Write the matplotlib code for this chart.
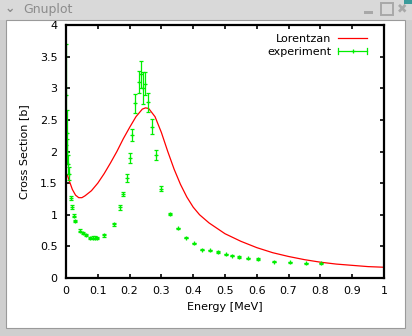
import matplotlib
matplotlib.use("Agg")
import matplotlib.pyplot as plt
from matplotlib.patches import Rectangle
from matplotlib.lines import Line2D
from matplotlib.legend_handler import HandlerBase
import numpy as np

# ---- data ----
lor_E = [0.005, 0.01, 0.02, 0.03, 0.04, 0.05, 0.06, 0.08, 0.10, 0.12, 0.14, 0.16,
         0.18, 0.20, 0.22, 0.24, 0.25, 0.26, 0.28, 0.30, 0.32, 0.34, 0.36, 0.38,
         0.40, 0.42, 0.45, 0.50, 0.55, 0.60, 0.65, 0.70, 0.75, 0.80, 0.85, 0.90,
         0.95, 1.0]
lor_S = [1.62, 1.54, 1.40, 1.31, 1.27, 1.27, 1.30, 1.38, 1.50, 1.65, 1.82, 2.00,
         2.20, 2.38, 2.55, 2.67, 2.69, 2.68, 2.55, 2.30, 2.00, 1.72, 1.48, 1.28,
         1.12, 1.00, 0.87, 0.70, 0.58, 0.48, 0.40, 0.34, 0.29, 0.25, 0.22, 0.20,
         0.18, 0.17]

exp_E = [0.001, 0.002, 0.004, 0.006, 0.008, 0.016, 0.019, 0.024, 0.029, 0.045,
         0.053, 0.064, 0.074, 0.084, 0.091, 0.097, 0.119, 0.151, 0.169, 0.180,
         0.193, 0.201, 0.208, 0.218, 0.228, 0.237, 0.242, 0.247, 0.257, 0.272,
         0.283, 0.300, 0.326, 0.352, 0.377, 0.402, 0.428, 0.453, 0.478, 0.503,
         0.522, 0.544, 0.573, 0.604, 0.654, 0.704, 0.754, 0.803]
exp_S = [2.90, 2.30, 2.00, 1.80, 1.65, 1.26, 1.12, 0.985, 0.90, 0.75,
         0.71, 0.68, 0.63, 0.64, 0.64, 0.63, 0.675, 0.85, 1.12, 1.33,
         1.58, 1.90, 2.26, 2.76, 3.10, 3.22, 3.00, 3.07, 2.78, 2.39,
         1.94, 1.41, 1.01, 0.785, 0.64, 0.55, 0.45, 0.44, 0.41, 0.375,
         0.35, 0.33, 0.31, 0.30, 0.26, 0.25, 0.23, 0.23]
exp_err = [0.80, 0.35, 0.20, 0.15, 0.10, 0.03, 0.03, 0.02, 0.02, 0.02,
           0.02, 0.02, 0.02, 0.02, 0.02, 0.02, 0.02, 0.02, 0.04, 0.03,
           0.06, 0.08, 0.10, 0.15, 0.18, 0.21, 0.25, 0.18, 0.15, 0.12,
           0.08, 0.04, 0.02, 0.01, 0.01, 0.01, 0.01, 0.01, 0.01, 0.01,
           0.01, 0.01, 0.01, 0.01, 0.01, 0.01, 0.01, 0.01]

x_ticks = [0, 0.1, 0.2, 0.3, 0.4, 0.5, 0.6, 0.7, 0.8, 0.9, 1]
x_labels = ["0", "0.1", "0.2", "0.3", "0.4", "0.5", "0.6", "0.7", "0.8", "0.9", "1"]
y_ticks = [0, 0.5, 1, 1.5, 2, 2.5, 3, 3.5, 4]
y_labels = ["0", "0.5", "1", "1.5", "2", "2.5", "3", "3.5", "4"]

GREEN = "#00ee00"
RED = "#ff0000"

W, H = 412, 336
fig = plt.figure(figsize=(W / 100, H / 100), dpi=100)
fig.patch.set_facecolor("#d6d6d6")

def px(x0, y0, w, h, **kw):
    # rectangle in figure pixel coords (y from top), drawn behind the axes
    r = Rectangle((x0 / W, 1 - (y0 + h) / H), w / W, h / H,
                  transform=fig.transFigure, zorder=-10, **kw)
    fig.patches.append(r)
    return r

# window frame
px(0, 0, W, 20, facecolor="#d9d9d9", edgecolor="none")
px(0, 20, W, 316, facecolor="#cfcfcf", edgecolor="none")
px(6, 20, 399, 308, facecolor="white", edgecolor="#9a9a9a", linewidth=0.8)
px(404, 0, 8, 4, facecolor="#3a9a9a", edgecolor="none")
fig.text(23 / W, 1 - 9 / H, "Gnuplot", color="#8c8c8c", fontsize=9,
         ha="left", va="center", family="DejaVu Sans")
fig.text(10 / W, 1 - 9 / H, "\u2304", color="#8c8c8c", fontsize=9,
         ha="center", va="center", weight="bold")
# title-bar buttons
px(364, 11, 9, 3, facecolor="#a8a8a8", edgecolor="none")
px(381, 3, 12, 12, facecolor="none", edgecolor="#a8a8a8", linewidth=1.4)
fig.text(402 / W, 1 - 9 / H, "\u2716", color="#a8a8a8", fontsize=9,
         ha="center", va="center")

# plot axes
ax = fig.add_axes([66 / W, 1 - 278 / H, (384 - 66) / W, (278 - 25) / H])
ax.set_facecolor("white")

ax.plot(lor_E, lor_S, color=RED, linewidth=0.9, label="Lorentzan")
eb = ax.errorbar(exp_E, exp_S, yerr=exp_err, fmt="+", color=GREEN,
                 ecolor=GREEN, markersize=3.5, markeredgewidth=0.9,
                 elinewidth=0.9, capsize=1.5, capthick=0.9, label="experiment")

ax.set_xlim(0, 1)
ax.set_ylim(0, 4)
ax.set_xticks(x_ticks)
ax.set_xticklabels(x_labels)
ax.set_yticks(y_ticks)
ax.set_yticklabels(y_labels)
ax.tick_params(direction="in", length=3, width=1.2, top=True, right=True,
               labelsize=8, pad=6, colors="black")
for s in ax.spines.values():
    s.set_linewidth(1.6)
    s.set_color("black")

ax.set_xlabel("Energy [MeV]", fontsize=8, labelpad=4)
ax.set_ylabel("Cross Section [b]", fontsize=8, labelpad=8)


class GnuplotErrHandler(HandlerBase):
    """gnuplot-style errorbar key sample: line with end ticks and a centre '+'."""
    def create_artists(self, legend, orig_handle, xdescent, ydescent,
                       width, height, fontsize, trans):
        y = height / 2 - ydescent
        x0, x1 = -xdescent, width - xdescent
        t = 2.0
        a = Line2D([x0, x1], [y, y], color=GREEN, lw=0.9)
        b = Line2D([x0, x0], [y - t, y + t], color=GREEN, lw=0.9)
        c = Line2D([x1, x1], [y - t, y + t], color=GREEN, lw=0.9)
        d = Line2D([(x0 + x1) / 2], [y], color=GREEN, marker="+",
                   markersize=3.5, markeredgewidth=0.9, linestyle="none")
        for art in (a, b, c, d):
            art.set_transform(trans)
        return [a, b, c, d]


handles, labels = ax.get_legend_handles_labels()
leg = ax.legend(handles, labels, loc="upper right", bbox_to_anchor=(0.975, 1.0),
                frameon=False, markerfirst=False, fontsize=8, handlelength=2.6,
                handletextpad=0.6, labelspacing=0.25, borderpad=0.3,
                handler_map={type(eb): GnuplotErrHandler()})

fig.savefig("out.png", dpi=100, facecolor=fig.get_facecolor())
